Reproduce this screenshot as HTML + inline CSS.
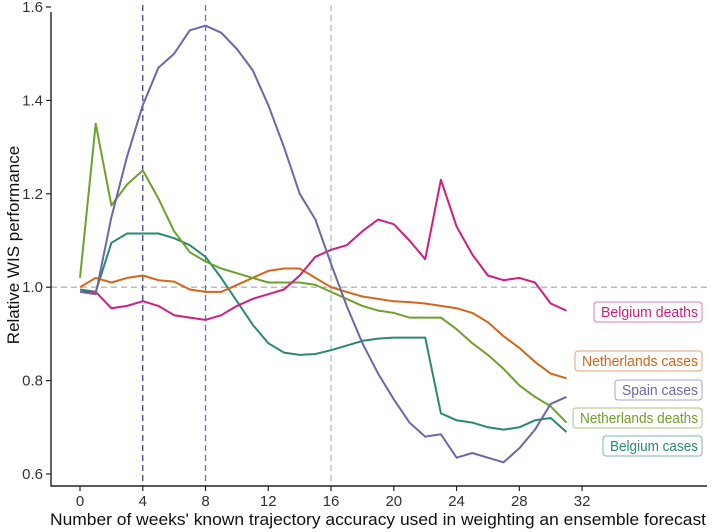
<!DOCTYPE html>
<html><head><meta charset="utf-8"><style>
body{margin:0;background:#fff;}
svg{display:block;font-family:"Liberation Sans",sans-serif;}
</style></head><body>
<svg id="chart" width="712" height="532" viewBox="0 0 712 532" xmlns="http://www.w3.org/2000/svg"></svg>
<script>
const weeks = [0,1,2,3,4,5,6,7,8,9,10,11,12,13,14,15,16,17,18,19,20,21,22,23,24,25,26,27,28,29,30,31];
const spainCases = [0.99,0.985,1.15,1.28,1.39,1.47,1.50,1.55,1.56,1.545,1.51,1.465,1.39,1.30,1.20,1.145,1.05,0.96,0.88,0.815,0.76,0.71,0.68,0.685,0.635,0.645,0.635,0.625,0.655,0.695,0.75,0.765];
const netherlandsDeaths = [1.02,1.35,1.175,1.22,1.25,1.19,1.12,1.075,1.055,1.04,1.03,1.02,1.01,1.01,1.01,1.005,0.99,0.975,0.96,0.95,0.945,0.935,0.935,0.935,0.91,0.88,0.855,0.825,0.79,0.765,0.745,0.71];
const belgiumCases = [0.995,0.99,1.095,1.115,1.115,1.115,1.105,1.09,1.065,1.02,0.97,0.92,0.88,0.86,0.855,0.857,0.865,0.875,0.885,0.89,0.892,0.892,0.892,0.73,0.715,0.71,0.70,0.695,0.70,0.715,0.72,0.69];
const netherlandsCases = [1.0,1.02,1.01,1.02,1.025,1.015,1.012,0.995,0.99,0.99,1.005,1.02,1.035,1.04,1.04,1.02,1.0,0.99,0.98,0.975,0.97,0.968,0.965,0.96,0.955,0.945,0.925,0.895,0.87,0.84,0.815,0.805];
const belgiumDeaths = [0.99,0.99,0.955,0.96,0.97,0.96,0.94,0.935,0.93,0.94,0.96,0.975,0.985,0.995,1.025,1.065,1.08,1.09,1.12,1.145,1.135,1.10,1.06,1.23,1.13,1.07,1.025,1.015,1.02,1.01,0.965,0.95];
const xTicks = [0,4,8,12,16,20,24,28,32];
const yTicks = [0.6,0.8,1.0,1.2,1.4,1.6];
const vLines = [4,8,16];

const svg = document.getElementById('chart');
const NS = 'http://www.w3.org/2000/svg';
const X = w => 80 + w * 15.69;
const Y = v => 474 - (v - 0.6) * 467;
function mk(tag, attrs, parent){const e=document.createElementNS(NS,tag);for(const k in attrs)e.setAttribute(k,attrs[k]);(parent||svg).appendChild(e);return e;}

const h = mk('line',{x1:51,x2:707,y1:Y(1),y2:Y(1),stroke:'#b5b5b5','stroke-width':1.3,'stroke-dasharray':'6,4'});


const vCols = ['#3a4b8f','#3f86c4','#a9bccc'];
vLines.forEach((w,i)=>{
  const l = mk('line',{x1:X(w),x2:X(w),y1:5,y2:486,stroke:vCols[i],'stroke-width':1.3,'stroke-dasharray':'6,4'});
  
  
});

const ax = mk('path',{d:'M51,12 V486 H707',fill:'none',stroke:'#222','stroke-width':1.4});


yTicks.forEach(v=>{
  mk('line',{x1:46,x2:51,y1:Y(v),y2:Y(v),stroke:'#222','stroke-width':1.2});
  const t = mk('text',{x:43,y:Y(v)+5,'text-anchor':'end','font-size':15,fill:'#333'});
  t.textContent = v.toFixed(1);
  
  
});
xTicks.forEach(w=>{
  mk('line',{x1:X(w),x2:X(w),y1:486,y2:491,stroke:'#222','stroke-width':1.2});
  const t = mk('text',{x:X(w),y:506,'text-anchor':'middle','font-size':15,fill:'#333'});
  t.textContent = w;
  
  
});
const xt = mk('text',{x:50,y:525,'text-anchor':'start','font-size':17,fill:'#111',textLength:656,lengthAdjust:'spacingAndGlyphs'});
xt.textContent = "Number of weeks' known trajectory accuracy used in weighting an ensemble forecast";


const yt = mk('text',{x:0,y:0,'text-anchor':'middle','font-size':17,fill:'#111',transform:'translate(19,245) rotate(-90)'});
yt.textContent = 'Relative WIS performance';



const series = [
  ['belgium-cases',belgiumCases,'#2a8a6e','Belgium cases',446,603],
  ['netherlands-cases',netherlandsCases,'#d3661a','Netherlands cases',361,575],
  ['netherlands-deaths',netherlandsDeaths,'#6ea12a','Netherlands deaths',418,573],
  ['belgium-deaths',belgiumDeaths,'#cf1f7e','Belgium deaths',312,594],
  ['spain-cases',spainCases,'#6b68a8','Spain cases',390,615]
];
series.forEach(s=>{
  const d = s[1].map((v,i)=>(i?'L':'M')+X(weeks[i]).toFixed(1)+','+Y(v).toFixed(1)).join(' ');
  const p = mk('path',{d:d,fill:'none',stroke:s[2],'stroke-width':2,'stroke-linejoin':'round'});
  
  
  const g = mk('g',{});
  
  
  mk('rect',{x:s[5],y:s[4]-10,width:702-s[5],height:20,rx:3,fill:'#fff',stroke:s[2],'stroke-opacity':0.6,'stroke-width':1},g);
  const t = mk('text',{x:698,y:s[4]+5,'text-anchor':'end','font-size':14.5,fill:s[2],textLength:698-s[5]-7,lengthAdjust:'spacingAndGlyphs'},g);
  t.textContent = s[3];
});
</script>
</body></html>
